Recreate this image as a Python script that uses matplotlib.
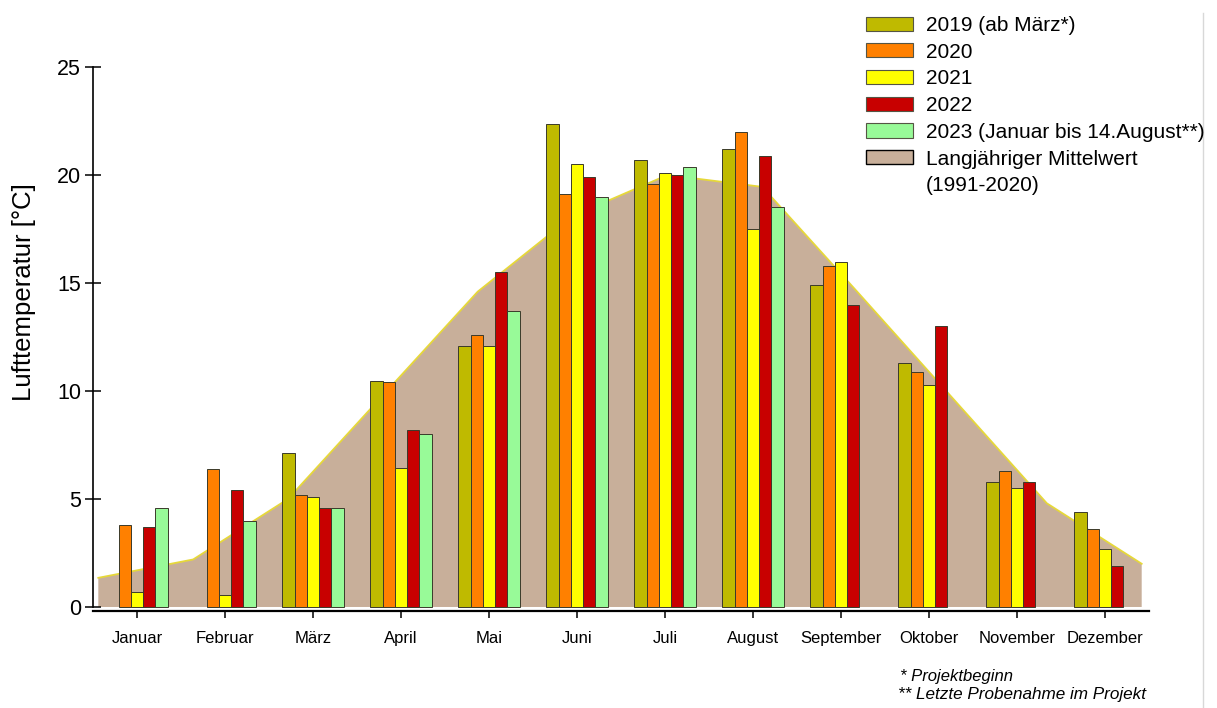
import numpy as np
import matplotlib
matplotlib.use("Agg")
import matplotlib.pyplot as plt
from matplotlib.patches import Patch
from matplotlib.lines import Line2D

plt.rcParams['font.family'] = ['Liberation Sans', 'DejaVu Sans']

months = ["Januar", "Februar", "März", "April", "Mai", "Juni", "Juli",
          "August", "September", "Oktober", "November", "Dezember"]

nan = np.nan
t2019 = [nan, nan, 7.15, 10.45, 12.1, 22.35, 20.7, 21.2, 14.9, 11.3, 5.8, 4.4]
t2020 = [3.8, 6.4, 5.2, 10.4, 12.6, 19.1, 19.6, 22.0, 15.8, 10.9, 6.3, 3.6]
t2021 = [0.7, 0.55, 5.1, 6.45, 12.1, 20.5, 20.1, 17.5, 15.95, 10.3, 5.5, 2.7]
t2022 = [3.7, 5.4, 4.6, 8.2, 15.5, 19.9, 20.0, 20.9, 14.0, 13.0, 5.8, 1.9]
t2023 = [4.6, 4.0, 4.6, 8.0, 13.7, 19.0, 20.35, 18.5, nan, nan, nan, nan]
mean_1991_2020 = [1.35, 2.2, 5.0, 9.8, 14.6, 18.1, 20.0, 19.45, 14.6, 9.7, 4.8, 2.0]

series = [
    ("2019 (ab März*)", t2019, "#BFBA00"),
    ("2020", t2020, "#FF8000"),
    ("2021", t2021, "#FFFF00"),
    ("2022", t2022, "#C80000"),
    ("2023 (Januar bis 14.August**)", t2023, "#98FA98"),
]
mean_label = "Langjähriger Mittelwert"
mean_label2 = "(1991-2020)"
mean_color = "#C8AF9A"

W, H = 1217, 708
fig = plt.figure(figsize=(W / 100, H / 100), dpi=100)
ax = fig.add_axes([93 / W, 1 - 611.3 / H, 1056 / W, (611.3 - 56.2) / H])

# long-term mean drawn as an area on its own category scale
ax2 = ax.twiny()
xm = np.arange(len(mean_1991_2020))
ax2.fill_between(xm, 0, mean_1991_2020, facecolor=mean_color, edgecolor="none", zorder=1)
ax2.plot(xm, mean_1991_2020, color="#E6D83A", lw=1.3, zorder=2)
ax2.set_xlim(-0.056, 11.077)
ax2.set_xticks([])
for s in ax2.spines.values():
    s.set_visible(False)

ax.set_zorder(ax2.get_zorder() + 1)
ax.patch.set_visible(False)

x = np.arange(len(months))
bw = 0.14
for i, (lab, vals, col) in enumerate(series):
    ax.bar(x + (i - 2) * bw, vals, width=bw, color=col, edgecolor="#3a3a2a",
           linewidth=0.7, zorder=3)

ax.set_xlim(-0.5, 11.5)
ax.set_ylim(-0.2, 25.5)
ax2.set_ylim(-0.2, 25.5)

ax.spines['top'].set_visible(False)
ax.spines['right'].set_visible(False)
ax.spines['left'].set_bounds(0, 25)
ax.spines['left'].set_linewidth(1.2)
ax.spines['bottom'].set_linewidth(1.6)

ax.set_yticks([0, 5, 10, 15, 20, 25])
ax.tick_params(axis='y', direction='inout', length=11, width=1.1, labelsize=15.5, pad=3)
ax.set_xticks(x)
ax.set_xticklabels(months)
ax.tick_params(axis='x', direction='out', length=5, width=1.1, labelsize=12, pad=9)

ax.set_ylabel("Lufttemperatur [°C]", fontsize=18.5)
ax.yaxis.set_label_coords((36 - 93) / 1056, (611.3 - 292) / (611.3 - 56.2))

handles = [Patch(facecolor=c, edgecolor="#555544", linewidth=0.8) for _, _, c in series]
labels = [lab for lab, _, _ in series]
handles.append(Patch(facecolor=mean_color, edgecolor="black", linewidth=1.0))
labels.append(mean_label)
handles.append(Patch(facecolor="none", edgecolor="none"))
labels.append(mean_label2)
fig.legend(handles, labels, loc="upper left", bbox_to_anchor=(866 / W, 1 - 16 / H),
           frameon=False, fontsize=15, handlelength=2.26, handleheight=0.67,
           handletextpad=0.6, labelspacing=0.37, borderpad=0, borderaxespad=0)

fig.text(900 / W, 1 - 676 / H, "* Projektbeginn", fontsize=12, style="italic",
         va="center", ha="left")
fig.text(898 / W, 1 - 694 / H, "** Letzte Probenahme im Projekt", fontsize=12.3,
         style="italic", va="center", ha="left")

fig.add_artist(Line2D([1203 / W, 1203 / W], [0, 1 - 13 / H], color="#D8D8D8", lw=1))

fig.savefig("out.png", dpi=100)
